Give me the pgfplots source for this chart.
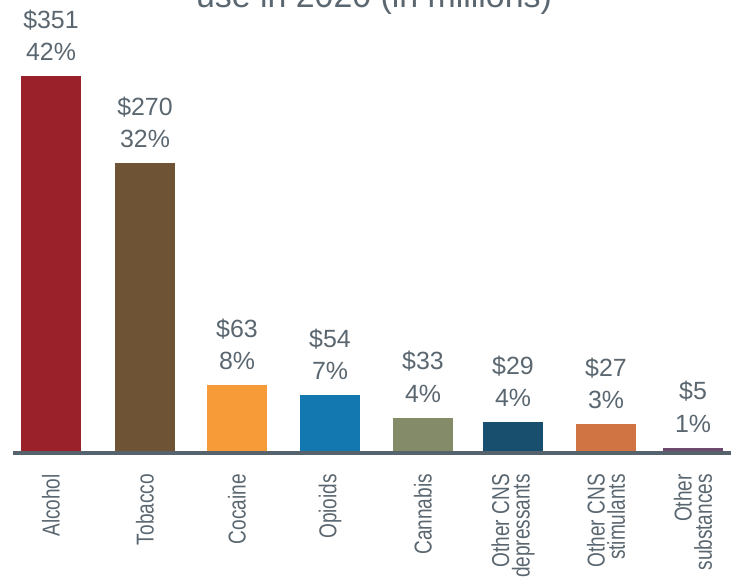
\documentclass[border=0pt]{standalone}
\usepackage{fontspec}
\setmainfont{Liberation Sans}
\newfontfamily\condfont[FakeStretch=0.78]{Liberation Sans}
\usepackage{pgfplots}
\usepackage{pgfplotstable}
\pgfplotsset{compat=1.18}
\definecolor{txt}{HTML}{5B6770}
\definecolor{axc}{HTML}{56636D}
\definecolor{cAlc}{HTML}{9A2129}
\definecolor{cTob}{HTML}{6E5435}
\definecolor{cCoc}{HTML}{F79A38}
\definecolor{cOpi}{HTML}{1478B0}
\definecolor{cCan}{HTML}{838B69}
\definecolor{cDep}{HTML}{184F6E}
\definecolor{cSti}{HTML}{D07443}
\definecolor{cOth}{HTML}{6D4A6C}
\pgfplotstableread{
x y pct
51 351 42
145 270 32
237 63 8
330 54 7
423 33 4
513 29 4
606 27 3
693 5 1
}\costdata
\begin{document}
\begin{tikzpicture}
\useasboundingbox (0,0) rectangle (731bp,581bp);
\clip (0,0) rectangle (731bp,581bp);
\begin{axis}[
  at={(13bp,128bp)}, anchor=south west,
  scale only axis, width=718bp, height=453bp,
  xmin=13, xmax=731, ymin=0, ymax=421.8,
  axis x line=bottom, axis y line=none,
  x axis line style={-, line width=3bp, draw=axc},
  axis on top, clip=false,
  /pgf/number format/assume math mode=true,
  xtick={51,145,237,330,423,513,606,693},
  xticklabels={Alcohol,Tobacco,Cocaine,Opioids,Cannabis,{Other CNS\\depressants},{Other CNS\\stimulants},{Other\\substances}},
  major tick length=0pt,
  xticklabel style={rotate=90, anchor=east, align=right, inner sep=0pt, font=\condfont\fontsize{24.5}{20.5}\selectfont, text=txt, xshift=-21bp},
  ybar, bar width=60bp, bar shift=0pt,
  point meta=y,
  visualization depends on={\thisrow{pct}\as\pct},
  nodes near coords={\$\pgfmathprintnumber{\pgfplotspointmeta}\\\pgfmathprintnumber{\pct}\%},
  nodes near coords style={font=\fontsize{25}{32.5}\selectfont, text=txt, align=center, anchor=south, inner sep=0pt, yshift=15bp},
]
\addplot[fill=cAlc, draw=none, restrict x to domain=50:52] table[x=x,y=y]{\costdata};
\addplot[fill=cTob, draw=none, restrict x to domain=144:146] table[x=x,y=y]{\costdata};
\addplot[fill=cCoc, draw=none, restrict x to domain=236:238] table[x=x,y=y]{\costdata};
\addplot[fill=cOpi, draw=none, restrict x to domain=329:331] table[x=x,y=y]{\costdata};
\addplot[fill=cCan, draw=none, restrict x to domain=422:424] table[x=x,y=y]{\costdata};
\addplot[fill=cDep, draw=none, restrict x to domain=512:514] table[x=x,y=y]{\costdata};
\addplot[fill=cSti, draw=none, restrict x to domain=605:607] table[x=x,y=y]{\costdata};
\addplot[fill=cOth, draw=none, restrict x to domain=692:694] table[x=x,y=y]{\costdata};
\end{axis}
\node[anchor=base, font=\fontsize{34}{40}\selectfont, text=txt, inner sep=0pt] at (374bp,573bp) {use in 2020 (in millions)};
\end{tikzpicture}
\end{document}
